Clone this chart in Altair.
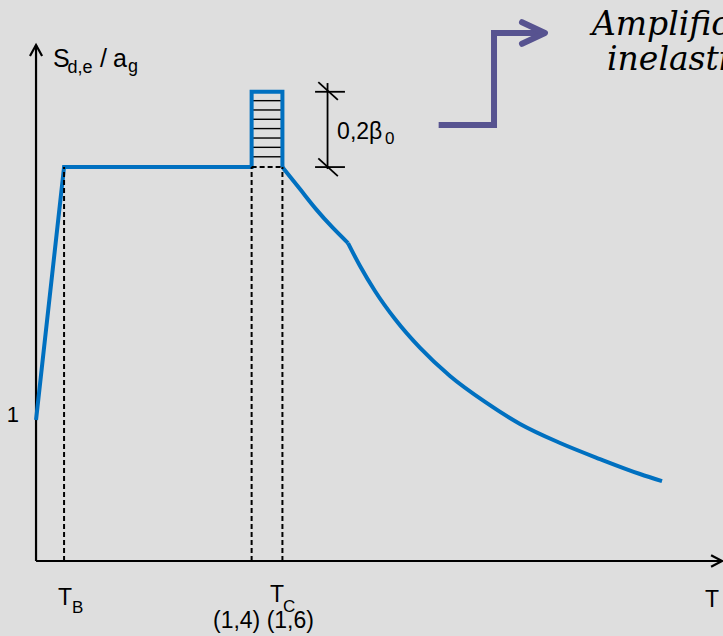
import altair as alt
import pandas as pd

# ---------------- scales (data units: T in s, S = Sd,e/ag) ----------------
X_DOMAIN = [-0.234, 4.461]
Y_DOMAIN = [-0.532, 3.979]

BLUE = "#0070C0"
PURPLE = "#575390"
BG = "#dedede"
SANS = "Liberation Sans, Arial, Helvetica, sans-serif"
SERIF = "DejaVu Serif, Georgia, serif"

# ---------------- data ----------------
# rising branch, plateau and amplified box (straight segments)
base_T = [0.0, 0.182, 1.4, 1.4, 1.6, 1.6]
base_S = [1.0, 2.794, 2.794, 3.328, 3.328, 2.794]
# first descending branch (T_C -> T_D)
br1_T = [1.6, 1.714, 1.818, 1.922, 2.026]
br1_S = [2.794, 2.638, 2.496, 2.369, 2.255]
# second descending branch (after T_D)
br2_T = [2.026, 2.104, 2.201, 2.331, 2.494, 2.688, 2.916, 3.143, 3.403, 3.662, 3.922, 4.065]
br2_S = [2.255, 2.092, 1.915, 1.716, 1.511, 1.312, 1.128, 0.972, 0.837, 0.723, 0.617, 0.567]

TB = 0.182
TC_lo = 1.4
TC_hi = 1.6
plateau = 2.794
peak = 3.328
hatch_y = [3.265, 3.199, 3.133, 3.067, 3.000, 2.934, 2.867]

axis_y_top = 3.66
axis_x_end = 4.455

dim_x = 1.893
dim_top = 3.39
dim_bottom = 2.78
dim_bar_x = [1.812, 2.006]
dim_slash_x = [1.833, 1.960]
dim_slash_top_y = [3.397, 3.270]
dim_slash_bot_y = [2.856, 2.730]

arrow_T = [2.634, 2.974, 2.974, 3.292]
arrow_S = [3.092, 3.092, 3.745, 3.745]
arrow_tip = [3.305, 3.745]

# text labels
ylab_text = ["S", "/", "a"]
ylab_x = [0.110, 0.416, 0.500]
ylab_y = [3.506, 3.506, 3.506]
ysub_text = ["d,e", "g"]
ysub_x = [0.205, 0.597]
ysub_y = [3.459, 3.470]
main_text = ["T", "T", "(1,4) (1,6)", "T", "0,2β"]
main_x = [0.143, 1.519, 1.149, 4.344, 1.955]
main_y = [-0.312, -0.291, -0.475, -0.326, 2.991]
sub_text = ["B", "C", "0"]
sub_x = [0.234, 1.604, 2.266]
sub_y = [-0.369, -0.362, 2.955]
one_label = ["1"]
one_x = [-0.110]
one_y = [0.986]
note_lines = ["Amplificazione", "inelastica"]
note_x = [3.610, 3.708]
note_y = [3.730, 3.482]


def X(f="x"):
    return alt.X(f, type="quantitative", scale=alt.Scale(domain=X_DOMAIN, nice=False, zero=False), axis=None)


def Y(f="y"):
    return alt.Y(f, type="quantitative", scale=alt.Scale(domain=Y_DOMAIN, nice=False, zero=False), axis=None)


def path(xs, ys):
    return pd.DataFrame({"x": xs, "y": ys, "o": range(len(xs))})


# axes
axes_df = pd.DataFrame({"x": [0.0, 0.0], "x2": [0.0, axis_x_end], "y": [0.0, 0.0], "y2": [axis_y_top, 0.0]})
axes = alt.Chart(axes_df).mark_rule(color="black", strokeWidth=2.2).encode(
    x=X(), x2="x2", y=Y(), y2="y2")
yhead = alt.Chart(pd.DataFrame({"x": [0.0], "y": [axis_y_top]})).mark_point(
    shape="M-0.55,1L0,0L0.55,1", size=484, filled=False, color="black", strokeWidth=2.2, opacity=1
).encode(x=X(), y=Y())
xhead = alt.Chart(pd.DataFrame({"x": [axis_x_end], "y": [0.0]})).mark_point(
    shape="M-1,-0.53L0,0L-1,0.53", size=484, filled=False, color="black", strokeWidth=2.2, opacity=1
).encode(x=X(), y=Y())

# hatching inside the amplified box
hatch_df = pd.DataFrame({"y": hatch_y, "x": [TC_lo] * len(hatch_y), "x2": [TC_hi] * len(hatch_y)})
hatch = alt.Chart(hatch_df).mark_rule(color="black", strokeWidth=1.4).encode(x=X(), x2="x2", y=Y())

# spectrum
base_line = alt.Chart(path(base_T, base_S)).mark_line(
    color=BLUE, strokeWidth=4, strokeJoin="miter").encode(x=X(), y=Y(), order="o:Q")
br1_line = alt.Chart(path(br1_T, br1_S)).mark_line(
    color=BLUE, strokeWidth=4, interpolate="monotone").encode(x=X(), y=Y(), order="o:Q")
br2_line = alt.Chart(path(br2_T, br2_S)).mark_line(
    color=BLUE, strokeWidth=4, interpolate="monotone").encode(x=X(), y=Y(), order="o:Q")

# dashed guide lines
dv_df = pd.DataFrame({"x": [TB, TC_lo, TC_hi], "y": [0.0] * 3, "y2": [plateau] * 3})
dashed_v = alt.Chart(dv_df).mark_rule(color="black", strokeWidth=2, strokeDash=[5, 3]).encode(
    x=X(), y=Y(), y2="y2")
dh_df = pd.DataFrame({"x": [TC_lo], "x2": [TC_hi], "y": [plateau]})
dashed_h = alt.Chart(dh_df).mark_rule(color="black", strokeWidth=2, strokeDash=[5, 3]).encode(
    x=X(), x2="x2", y=Y())

# dimension marker 0,2 beta0
dim_df = pd.DataFrame({
    "x": [dim_x, dim_bar_x[0], dim_bar_x[0], dim_slash_x[0], dim_slash_x[0]],
    "x2": [dim_x, dim_bar_x[1], dim_bar_x[1], dim_slash_x[1], dim_slash_x[1]],
    "y": [dim_top, peak, plateau, dim_slash_top_y[0], dim_slash_bot_y[0]],
    "y2": [dim_bottom, peak, plateau, dim_slash_top_y[1], dim_slash_bot_y[1]],
})
dim = alt.Chart(dim_df).mark_rule(color="black", strokeWidth=1.8).encode(
    x=X(), x2="x2", y=Y(), y2="y2")

# purple step arrow
arrow_line = alt.Chart(path(arrow_T, arrow_S)).mark_line(
    color=PURPLE, strokeWidth=6, strokeJoin="miter", strokeCap="square").encode(x=X(), y=Y(), order="o:Q")
arrow_head = alt.Chart(pd.DataFrame({"x": [arrow_tip[0]], "y": [arrow_tip[1]]})).mark_point(
    shape="M-1,-0.47L0,0L-1,0.47", size=2116, filled=False, color=PURPLE, strokeWidth=6,
    strokeCap="round", strokeJoin="round", opacity=1
).encode(x=X(), y=Y())


def texts(xs, ys, ts, size, align="left", font=SANS, **kw):
    df = pd.DataFrame({"x": xs, "y": ys, "t": ts})
    return alt.Chart(df).mark_text(
        font=font, fontSize=size, align=align, baseline="alphabetic", color="black", **kw
    ).encode(x=X(), y=Y(), text="t:N")


ylab = texts(ylab_x, ylab_y, ylab_text, 25)
ysub = texts(ysub_x, ysub_y, ysub_text, 18)
main_labels = texts(main_x, main_y, main_text, 23)
sub_labels = texts(sub_x, sub_y, sub_text, 17)
one_text = texts(one_x, one_y, one_label, 22, align="right")
note = texts(note_x, note_y, note_lines, 33, font=SERIF, fontStyle="italic", clip=True)

chart = alt.layer(
    axes, yhead, xhead, hatch, base_line, br1_line, br2_line, dashed_v, dashed_h, dim,
    arrow_line, arrow_head, ylab, ysub, main_labels, sub_labels, one_text, note
).properties(
    width=723, height=636, background=BG, padding=0,
    autosize=alt.AutoSizeParams(type="none")
).configure_view(stroke=None)

chart.save("out.html", embed_options={"renderer": "svg", "actions": False})
